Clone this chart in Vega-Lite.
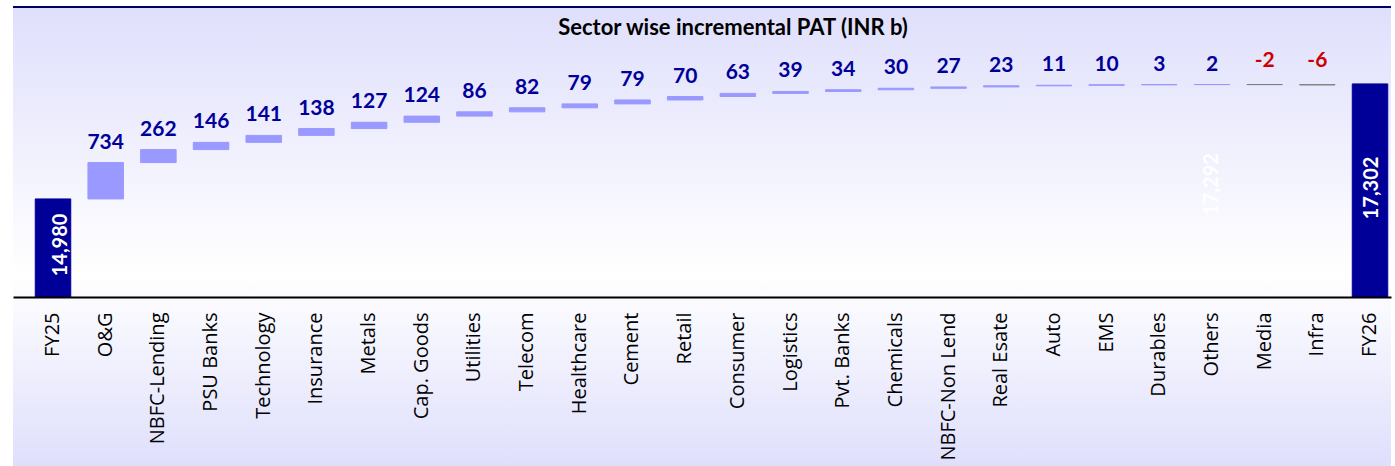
{
  "$schema": "https://vega.github.io/schema/vega-lite/v6.json",
  "width": 1378,
  "height": 290,
  "autosize": {"type": "none"},
  "padding": {"left": 13, "top": 7, "right": 4, "bottom": 169},
  "background": "#ffffff",
  "config": {"view": {"stroke": null}},
  "datasets": {
    "bars": [
      {"category": "FY25", "type": "total", "start": 0, "end": 14980, "delta": 14980},
      {"category": "O&G", "type": "up", "start": 14980, "end": 15714, "delta": 734},
      {"category": "NBFC-Lending", "type": "up", "start": 15714, "end": 15976, "delta": 262},
      {"category": "PSU Banks", "type": "up", "start": 15976, "end": 16122, "delta": 146},
      {"category": "Technology", "type": "up", "start": 16122, "end": 16263, "delta": 141},
      {"category": "Insurance", "type": "up", "start": 16263, "end": 16401, "delta": 138},
      {"category": "Metals", "type": "up", "start": 16401, "end": 16528, "delta": 127},
      {"category": "Cap. Goods", "type": "up", "start": 16528, "end": 16652, "delta": 124},
      {"category": "Utilities", "type": "up", "start": 16652, "end": 16738, "delta": 86},
      {"category": "Telecom", "type": "up", "start": 16738, "end": 16820, "delta": 82},
      {"category": "Healthcare", "type": "up", "start": 16820, "end": 16899, "delta": 79},
      {"category": "Cement", "type": "up", "start": 16899, "end": 16978, "delta": 79},
      {"category": "Retail", "type": "up", "start": 16978, "end": 17048, "delta": 70},
      {"category": "Consumer", "type": "up", "start": 17048, "end": 17111, "delta": 63},
      {"category": "Logistics", "type": "up", "start": 17111, "end": 17150, "delta": 39},
      {"category": "Pvt. Banks", "type": "up", "start": 17150, "end": 17184, "delta": 34},
      {"category": "Chemicals", "type": "up", "start": 17184, "end": 17214, "delta": 30},
      {"category": "NBFC-Non Lend", "type": "up", "start": 17214, "end": 17241, "delta": 27},
      {"category": "Real Esate", "type": "up", "start": 17241, "end": 17264, "delta": 23},
      {"category": "Auto", "type": "up", "start": 17264, "end": 17275, "delta": 11},
      {"category": "EMS", "type": "up", "start": 17275, "end": 17285, "delta": 10},
      {"category": "Durables", "type": "up", "start": 17285, "end": 17288, "delta": 3},
      {"category": "Others", "type": "up", "start": 17288, "end": 17290, "delta": 2},
      {"category": "Media", "type": "down", "start": 17290, "end": 17288, "delta": -2},
      {"category": "Infra", "type": "down", "start": 17288, "end": 17282, "delta": -6},
      {"category": "FY26", "type": "total", "start": 0, "end": 17302, "delta": 17302}
    ],
    "hidden": [
      {"category": "Others", "value": 17292}
    ]
  },
  "layer": [
    {
      "data": {"values": [{"bg": 1}]},
      "mark": {
        "type": "rect",
        "fill": {
          "gradient": "linear", "x1": 0, "y1": 0, "x2": 0, "y2": 1,
          "stops": [
            {"offset": 0, "color": "#dfdffc"},
            {"offset": 0.58, "color": "#ffffff"},
            {"offset": 1, "color": "#dfdffc"}
          ]
        }
      },
      "encoding": {
        "y": {"datum": 18855, "type": "quantitative", "scale": {"domain": [13000, 18855], "nice": false, "zero": false}, "axis": null},
        "y2": {"datum": 9588}
      }
    },
    {
      "data": {"values": [{"bg": 1}]},
      "mark": {"type": "rule", "color": "#000066", "strokeWidth": 2},
      "encoding": {
        "y": {"datum": 18855, "type": "quantitative", "axis": null}
      }
    },
    {
      "data": {"values": [{"t": "Sector wise incremental PAT (INR b)"}]},
      "mark": {"type": "text", "font": "Lato", "fontWeight": "bold", "fontSize": 22, "color": "#000000", "baseline": "middle", "align": "center", "dx": 31},
      "encoding": {
        "y": {"datum": 18431, "type": "quantitative", "axis": null},
        "text": {"field": "t"}
      }
    },
    {
      "data": {"name": "bars"},
      "layer": [
        {
          "mark": {"type": "bar", "clip": true, "strokeWidth": 1},
          "encoding": {
            "x": {
              "field": "category", "type": "nominal", "sort": null,
              "scale": {"paddingInner": 0.326, "paddingOuter": 0.242, "align": 0.873},
              "axis": {
                "title": null, "labelAngle": -90, "ticks": false, "zindex": 1,
                "domainColor": "#000000", "domainWidth": 2,
                "labelPadding": 15, "labelFont": "Open Sans", "labelFontSize": 20,
                "labelColor": "#000000", "labelLimit": 300
              }
            },
            "y": {"field": "start", "type": "quantitative", "axis": null},
            "y2": {"field": "end"},
            "fill": {"field": "type", "type": "nominal", "scale": {"domain": ["total", "up", "down"], "range": ["#000099", "#9999ff", "rgba(0,0,0,0)"]}, "legend": null},
            "stroke": {"field": "type", "type": "nominal", "scale": {"domain": ["total", "up", "down"], "range": ["#000099", "#9999ff", "#7f7f7f"]}, "legend": null}
          }
        },
        {
          "transform": [{"filter": "datum.type === 'up'"}],
          "mark": {"type": "text", "font": "Lato", "fontWeight": "bold", "fontSize": 21, "color": "#000099", "baseline": "middle", "dy": -20},
          "encoding": {
            "x": {"field": "category", "type": "nominal", "sort": null},
            "y": {"field": "end", "type": "quantitative"},
            "text": {"field": "delta"}
          }
        },
        {
          "transform": [{"filter": "datum.type === 'down'"}],
          "mark": {"type": "text", "font": "Lato", "fontWeight": "bold", "fontSize": 21, "color": "#cc0000", "baseline": "middle", "dy": -24},
          "encoding": {
            "x": {"field": "category", "type": "nominal", "sort": null},
            "y": {"field": "start", "type": "quantitative"},
            "text": {"field": "delta"}
          }
        },
        {
          "transform": [{"filter": "datum.category === 'FY25'"}],
          "mark": {"type": "text", "font": "Lato", "fontWeight": "bold", "fontSize": 20, "color": "#ffffff", "baseline": "middle", "align": "center", "angle": 270, "dx": -46, "dy": 8},
          "encoding": {
            "x": {"field": "category", "type": "nominal", "sort": null},
            "y": {"field": "end", "type": "quantitative"},
            "text": {"field": "end", "format": ","}
          }
        },
        {
          "transform": [{"filter": "datum.category === 'FY26'"}],
          "mark": {"type": "text", "font": "Lato", "fontWeight": "bold", "fontSize": 20, "color": "#ffffff", "baseline": "middle", "align": "center", "angle": 270, "dx": -104, "dy": 2},
          "encoding": {
            "x": {"field": "category", "type": "nominal", "sort": null},
            "y": {"field": "end", "type": "quantitative"},
            "text": {"field": "end", "format": ","}
          }
        }
      ]
    },
    {
      "data": {"name": "hidden"},
      "mark": {"type": "text", "font": "Lato", "fontWeight": "bold", "fontSize": 20, "color": "#ffffff", "baseline": "middle", "align": "center", "angle": 270, "dx": -100},
      "encoding": {
        "x": {"field": "category", "type": "nominal", "sort": null},
        "y": {"field": "value", "type": "quantitative"},
        "text": {"field": "value", "format": ","}
      }
    }
  ]
}
